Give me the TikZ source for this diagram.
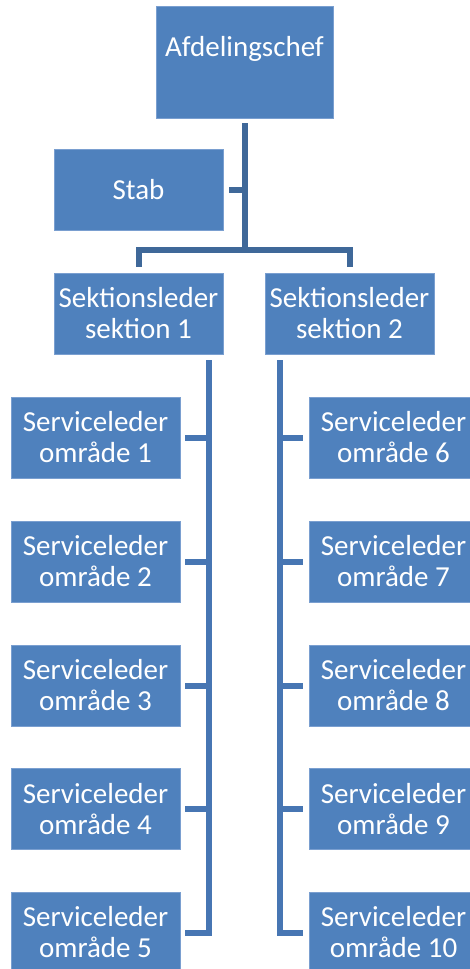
\documentclass[tikz,border=0pt]{standalone}
\usepackage{fontspec}
\setmainfont{Carlito}
\usetikzlibrary{calc}
\definecolor{boxfill}{HTML}{4F81BD}
\definecolor{boxedge}{HTML}{7A9FD0}
\definecolor{topline}{HTML}{3F6899}
\definecolor{lowline}{HTML}{4776B3}
\tikzset{
  orgbox/.style={rectangle, fill=boxfill, draw=boxedge, line width=0.6pt,
    minimum width=169pt, minimum height=81pt, inner sep=0pt,
    text=white, align=center, font=\fontsize{29}{31}\selectfont},
  conntop/.style={draw=topline, line width=6pt, line join=miter, line cap=butt},
  connlow/.style={draw=lowline, line width=6pt, line join=miter, line cap=butt}
}
\begin{document}
\begin{tikzpicture}[x=1pt, y=-1pt]
\useasboundingbox (0,0) rectangle (470,969);
\clip (0,0) rectangle (470,969);
% boxes
\node[orgbox, minimum width=177pt, minimum height=112pt] (a) at (244.5,62) {Afdelingschef\\\mbox{}};
\node[orgbox] (stab) at (138.5,189.5) {Stab};
\node[orgbox] (s1) at (138.5,313.5) {Sektionsleder\\sektion 1};
\node[orgbox] (s2) at (349.5,313.5) {Sektionsleder\\sektion 2};
\node[orgbox] (l1) at (95.5,437.5) {Serviceleder\\område 1};
\node[orgbox] (l2) at (95.5,561.5) {Serviceleder\\område 2};
\node[orgbox] (l3) at (95.5,685.5) {Serviceleder\\område 3};
\node[orgbox] (l4) at (95.5,809) {Serviceleder\\område 4};
\node[orgbox] (l5) at (95.5,932.5) {Serviceleder\\område 5};
\node[orgbox] (r1) at (393.5,437.5) {Serviceleder\\område 6};
\node[orgbox] (r2) at (393.5,561.5) {Serviceleder\\område 7};
\node[orgbox] (r3) at (393.5,685.5) {Serviceleder\\område 8};
\node[orgbox] (r4) at (393.5,809) {Serviceleder\\område 9};
\node[orgbox] (r5) at (393.5,932.5) {Serviceleder\\område 10};
% top connectors
\coordinate (atop) at ($(a.south)+(0,5)$);
\coordinate (bar) at (a.south |- 0,250);
\draw[conntop] (atop) -- ($(bar)+(0,3)$);
\draw[conntop] ($(s1.north)+(0,-6)$) |- (bar) -| ($(s2.north)+(0,-6)$);
\draw[conntop] ($(stab.east)+(6,0)$) -- (stab.east -| atop);
% section 1 spine
\coordinate (v1) at ($(s1.south east)+(-14,6)$);
\draw[connlow] (v1) |- ($(l5.east)+(5,0)$);
\foreach \n in {l1,l2,l3,l4}
  \draw[connlow] ($(\n.east)+(5,0)$) -- (\n.east -| v1);
% section 2 spine
\coordinate (v2) at ($(s2.south west)+(15,6)$);
\draw[connlow] (v2) |- ($(r5.west)+(-6,0)$);
\foreach \n in {r1,r2,r3,r4}
  \draw[connlow] ($(\n.west)+(-6,0)$) -- (\n.west -| v2);
\end{tikzpicture}
\end{document}
